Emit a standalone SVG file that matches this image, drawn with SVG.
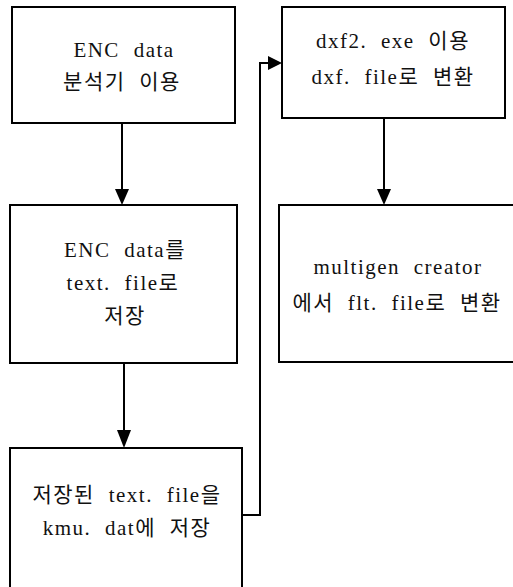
<svg xmlns="http://www.w3.org/2000/svg" width="513" height="587" viewBox="0 0 513 587">
<style>
.box{fill:#fff;stroke:#000;stroke-width:2}
.t{font-family:"Liberation Serif","Noto Sans CJK KR",serif;font-size:21px;fill:#111;text-anchor:middle;word-spacing:7px;letter-spacing:1.5px}
.c{fill:none;stroke:#000;stroke-width:2}
</style>
<rect width="513" height="587" fill="#fff"/>
<g id="connectors">
<path class="c" d="M122,123 V189"/>
<path d="M115,189 L129,189 L122,205 Z"/>
<path class="c" d="M124,363 V430"/>
<path d="M117,430 L131,430 L124,448 Z"/>
<path class="c" d="M242,515 H260 V63 H268"/>
<path d="M268,56 L268,70 L282,63 Z"/>
<path class="c" d="M384,118 V189"/>
<path d="M377,189 L391,189 L384,205 Z"/>
</g>
<g id="n1">
<rect class="box" x="12" y="7" width="223" height="116"/>
<text class="t" x="124" y="57">ENC data</text>
<text class="t" x="122" y="89">분석기 이용</text>
</g>
<g id="n2">
<rect class="box" x="10" y="205" width="227" height="158"/>
<text class="t" x="125" y="257">ENC data를</text>
<text class="t" x="123" y="290">text. file로</text>
<text class="t" x="125" y="323">저장</text>
</g>
<g id="n3">
<rect class="box" x="10" y="448" width="232" height="150"/>
<text class="t" x="127" y="502">저장된 text. file을</text>
<text class="t" x="127" y="535">kmu. dat에 저장</text>
</g>
<g id="n4">
<rect class="box" x="282" y="7" width="223" height="111"/>
<text class="t" x="393" y="48">dxf2. exe 이용</text>
<text class="t" x="393" y="84">dxf. file로 변환</text>
</g>
<g id="n5">
<rect class="box" x="279" y="205" width="240" height="157"/>
<text class="t" x="398" y="274">multigen creator</text>
<text class="t" x="397" y="310">에서 flt. file로 변환</text>
</g>
</svg>
